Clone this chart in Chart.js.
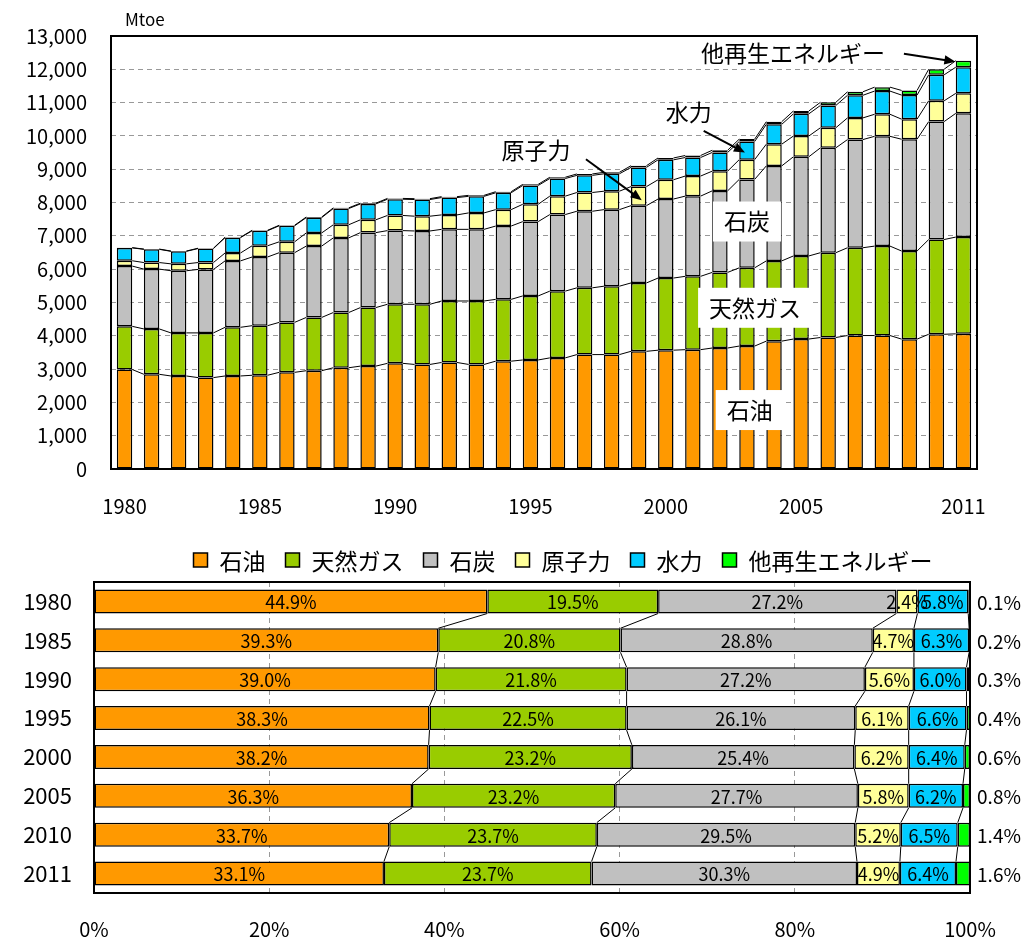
<!DOCTYPE html>
<html lang="ja">
<head>
<meta charset="utf-8">
<title>世界の一次エネルギー消費</title>
<script src="https://cdn.jsdelivr.net/npm/chart.js@4/dist/chart.umd.min.js"></script>
<style>
  body { margin:0; background:#fff; }
  #graficaTotal { position:absolute; left:0; top:0; }
  #graficaShare { position:absolute; left:0; top:540px; }
</style>
</head>
<body>
<canvas id="graficaTotal" width="1024" height="530"></canvas>
<canvas id="graficaShare" width="1024" height="400"></canvas>
<script>
// datos (Mtoe)
var years = ['1980','1981','1982','1983','1984','1985','1986','1987','1988','1989',
             '1990','1991','1992','1993','1994','1995','1996','1997','1998','1999',
             '2000','2001','2002','2003','2004','2005','2006','2007','2008','2009',
             '2010','2011'];
var yearLabels = ['1980','1985','1990','1995','2000','2005','2011'];
var oil   = [2986,2843,2793,2744,2793,2814,2902,2951,3040,3089,3172,3139,3198,3139,3237,3273,3336,3435,3435,3533,3567,3583,3632,3691,3839,3902,3948,4007,4007,3899,4045,4058];
var gas   = [1297,1362,1293,1342,1461,1489,1500,1599,1658,1757,1773,1806,1846,1905,1856,1923,2004,2004,2053,2053,2166,2201,2270,2349,2409,2494,2546,2636,2685,2645,2844,2905];
var coal  = [1809,1796,1866,1905,1994,2062,2092,2142,2241,2251,2212,2201,2151,2151,2201,2231,2299,2299,2299,2320,2372,2408,2448,2655,2852,2977,3149,3247,3296,3356,3541,3714];
var nuclear = [160,197,207,207,237,337,326,395,394,384,455,444,434,494,493,521,553,563,553,572,579,602,592,593,652,623,602,651,662,602,624,601];
var hydro = [386,397,376,420,461,451,482,460,488,477,488,500,520,497,506,564,529,515,522,577,598,557,561,544,597,666,670,679,696,723,780,785];
var otherRen = [7,8,9,10,12,14,16,18,20,22,24,26,28,30,32,34,38,42,45,50,56,60,66,72,78,86,95,105,118,140,168,196];

// participacion (%)
var shareYears = ['1980','1985','1990','1995','2000','2005','2010','2011'];
var oilPct   = [44.9,39.3,39.0,38.3,38.2,36.3,33.7,33.1];
var gasPct   = [19.5,20.8,21.8,22.5,23.2,23.2,23.7,23.7];
var coalPct  = [27.2,28.8,27.2,26.1,25.4,27.7,29.5,30.3];
var nucPct   = [2.4,4.7,5.6,6.1,6.2,5.8,5.2,4.9];
var hydroPct = [5.8,6.3,6.0,6.6,6.4,6.2,6.5,6.4];
var otherPct = [0.1,0.2,0.3,0.4,0.6,0.8,1.4,1.6];

var seriesNames = ['石油','天然ガス','石炭','原子力','水力','他再生エネルギー'];
var yTicks = [0,13000,1000];
var pctTicks = [0,100,20];

var FUENTE = "'Noto Sans CJK JP', 'Noto Sans', sans-serif";
var COLORES = ['#FF9900','#99CC00','#C0C0C0','#FFFF99','#00CCFF','#00FF00'];
Chart.defaults.font.family = FUENTE;
Chart.defaults.color = '#000';

function serie(i, data, barPct) {
    return {
        label: seriesNames[i],
        data: data,
        backgroundColor: COLORES[i],
        borderColor: '#000',
        borderWidth: 1.5,
        borderSkipped: false,
        barPercentage: barPct,
        categoryPercentage: 1
    };
}

// lineas de serie entre barras (como en Excel)
var lineasSerie = {
    id: 'lineasSerie',
    afterDatasetsDraw: function(chart) {
        var ctx = chart.ctx;
        var horiz = chart.options.indexAxis === 'y';
        var n = chart.data.datasets.length;
        ctx.save();
        ctx.strokeStyle = '#000';
        ctx.lineWidth = 1;
        for (var i = 0; i < n; i++) {
            if (horiz && i === n - 1) continue;
            var meta = chart.getDatasetMeta(i);
            for (var j = 0; j < meta.data.length - 1; j++) {
                var a = meta.data[j], b = meta.data[j + 1];
                ctx.beginPath();
                if (horiz) {
                    ctx.moveTo(a.x, a.y + a.height / 2);
                    ctx.lineTo(b.x, b.y - b.height / 2);
                } else {
                    ctx.moveTo(a.x + a.width / 2, a.y);
                    ctx.lineTo(b.x - b.width / 2, b.y);
                }
                ctx.stroke();
            }
        }
        ctx.restore();
    }
};

var marco = {
    id: 'marco',
    afterDraw: function(chart) {
        var a = chart.chartArea, ctx = chart.ctx;
        ctx.save();
        ctx.strokeStyle = '#000';
        ctx.lineWidth = 2;
        ctx.strokeRect(a.left, a.top, a.right - a.left, a.bottom - a.top);
        ctx.restore();
    }
};

function cajaTexto(ctx, txt, cx, cy) {
    ctx.font = '23px ' + FUENTE;
    var w = ctx.measureText(txt).width + 22;
    ctx.fillStyle = '#fff';
    ctx.fillRect(cx - w / 2, cy - 20, w, 40);
    ctx.fillStyle = '#000';
    ctx.textAlign = 'center';
    ctx.textBaseline = 'middle';
    ctx.fillText(txt, cx, cy);
}

function flecha(ctx, x1, y1, x2, y2) {
    var ang = Math.atan2(y2 - y1, x2 - x1);
    ctx.strokeStyle = '#000';
    ctx.fillStyle = '#000';
    ctx.lineWidth = 2;
    ctx.beginPath();
    ctx.moveTo(x1, y1);
    ctx.lineTo(x2 - 8 * Math.cos(ang), y2 - 8 * Math.sin(ang));
    ctx.stroke();
    ctx.beginPath();
    ctx.moveTo(x2, y2);
    ctx.lineTo(x2 - 12 * Math.cos(ang - 0.4), y2 - 12 * Math.sin(ang - 0.4));
    ctx.lineTo(x2 - 12 * Math.cos(ang + 0.4), y2 - 12 * Math.sin(ang + 0.4));
    ctx.closePath();
    ctx.fill();
}

var notas = {
    id: 'notas',
    afterDraw: function(chart) {
        var ctx = chart.ctx, sx = chart.scales.x, sy = chart.scales.y;
        ctx.save();
        ctx.font = '17px ' + FUENTE;
        ctx.fillStyle = '#000';
        ctx.textAlign = 'left';
        ctx.textBaseline = 'middle';
        ctx.fillText('Mtoe', sx.left + 14, sy.top - 16);

        cajaTexto(ctx, '石炭', sx.getPixelForValue(23), sy.getPixelForValue(7430));
        cajaTexto(ctx, '天然ガス', sx.getPixelForValue(23.3), sy.getPixelForValue(4840));
        cajaTexto(ctx, '石油', sx.getPixelForValue(23.1), sy.getPixelForValue(1770));

        ctx.font = '23px ' + FUENTE;
        ctx.textAlign = 'center';
        ctx.fillText('他再生エネルギー', sx.getPixelForValue(24.7), sy.getPixelForValue(12470));
        ctx.fillText('水力', sx.getPixelForValue(20.85), sy.getPixelForValue(10720));
        ctx.fillText('原子力', sx.getPixelForValue(15.2), sy.getPixelForValue(9570));

        var eOtro = chart.getDatasetMeta(5).data[31];
        flecha(ctx, sx.getPixelForValue(28.8), sy.getPixelForValue(12470), eOtro.x - 8, eOtro.y + 1);
        var eHidro = chart.getDatasetMeta(4).data[23];
        flecha(ctx, sx.getPixelForValue(21.4), sy.getPixelForValue(10150), eHidro.x - 2, (eHidro.y + eHidro.base) / 2 + 2);
        var eNuc = chart.getDatasetMeta(3).data[19];
        flecha(ctx, sx.getPixelForValue(17.05), sy.getPixelForValue(9300), eNuc.x + 3, (eNuc.y + eNuc.base) / 2 + 4);
        ctx.restore();
    }
};

new Chart(document.getElementById('graficaTotal'), {
    type: 'bar',
    data: {
        labels: years,
        datasets: [
            serie(0, oil, 0.57), serie(1, gas, 0.57), serie(2, coal, 0.57),
            serie(3, nuclear, 0.57), serie(4, hydro, 0.57), serie(5, otherRen, 0.57)
        ]
    },
    options: {
        responsive: false,
        animation: false,
        layout: { padding: { top: 29, right: 47, left: 0, bottom: 0 } },
        plugins: { legend: { display: false }, tooltip: { enabled: false } },
        scales: {
            x: {
                stacked: true,
                grid: { display: false, drawTicks: false },
                border: { display: false },
                ticks: {
                    autoSkip: false, maxRotation: 0, padding: 25,
                    font: { size: 20 },
                    callback: function(v) {
                        var a = this.getLabelForValue(v);
                        return yearLabels.indexOf(a) >= 0 ? a : '';
                    }
                },
                afterFit: function(s) { s.height = 61; }
            },
            y: {
                stacked: true,
                min: yTicks[0], max: yTicks[1],
                grid: { color: '#999', lineWidth: 1, drawTicks: false },
                border: { display: false, dash: [5, 4] },
                ticks: {
                    stepSize: yTicks[2], padding: 24,
                    font: { size: 20 },
                    callback: function(v) { return v.toLocaleString('en-US'); }
                },
                afterFit: function(s) { s.width = 111; }
            }
        }
    },
    plugins: [lineasSerie, marco, notas]
});

// grafica de participacion
var etiquetasShare = {
    id: 'etiquetasShare',
    afterDraw: function(chart) {
        var ctx = chart.ctx, a = chart.chartArea;
        ctx.save();
        ctx.fillStyle = '#000';
        ctx.textBaseline = 'middle';
        ctx.textAlign = 'center';
        ctx.font = '18px ' + FUENTE;
        for (var i = 0; i < 5; i++) {
            var meta = chart.getDatasetMeta(i);
            var vals = chart.data.datasets[i].data;
            meta.data.forEach(function(el, j) {
                ctx.fillText(vals[j].toFixed(1) + '%', (el.x + el.base) / 2, el.y + 1);
            });
        }
        var mOtro = chart.getDatasetMeta(5);
        ctx.font = '19px ' + FUENTE;
        mOtro.data.forEach(function(el, j) {
            ctx.fillText(otherPct[j].toFixed(1) + '%', a.right + 29, el.y + 1);
        });

        // leyenda
        ctx.font = '23px ' + FUENTE;
        ctx.textAlign = 'left';
        var total = 0, anchos = [];
        seriesNames.forEach(function(n) {
            var w = ctx.measureText(n).width;
            anchos.push(w);
            total += 15 + 11 + w;
        });
        total += 20 * (seriesNames.length - 1);
        var x = 563 - total / 2, y = 20;
        seriesNames.forEach(function(n, k) {
            ctx.fillStyle = COLORES[k];
            ctx.fillRect(x, y - 7, 14, 14);
            ctx.strokeStyle = '#000';
            ctx.lineWidth = 1.5;
            ctx.strokeRect(x, y - 7, 14, 14);
            ctx.fillStyle = '#000';
            ctx.fillText(n, x + 26, y + 1);
            x += 26 + anchos[k] + 20;
        });
        ctx.restore();
    }
};

new Chart(document.getElementById('graficaShare'), {
    type: 'bar',
    data: {
        labels: shareYears,
        datasets: [
            serie(0, oilPct, 0.62), serie(1, gasPct, 0.62), serie(2, coalPct, 0.62),
            serie(3, nucPct, 0.62), serie(4, hydroPct, 0.62), serie(5, otherPct, 0.62)
        ]
    },
    options: {
        indexAxis: 'y',
        responsive: false,
        animation: false,
        layout: { padding: { top: 42, right: 54, left: 0, bottom: 0 } },
        plugins: { legend: { display: false }, tooltip: { enabled: false } },
        scales: {
            x: {
                stacked: true,
                min: pctTicks[0], max: pctTicks[1],
                grid: { color: '#999', drawTicks: false },
                border: { display: false, dash: [5, 4] },
                ticks: {
                    stepSize: pctTicks[2], padding: 24,
                    font: { size: 20 },
                    callback: function(v) { return v + '%'; }
                },
                afterFit: function(s) { s.height = 47; }
            },
            y: {
                stacked: true,
                grid: { display: false, drawTicks: false },
                border: { display: false },
                ticks: { padding: 22, font: { size: 22 } },
                afterFit: function(s) { s.width = 94; }
            }
        }
    },
    plugins: [lineasSerie, marco, etiquetasShare]
});
</script>
</body>
</html>
